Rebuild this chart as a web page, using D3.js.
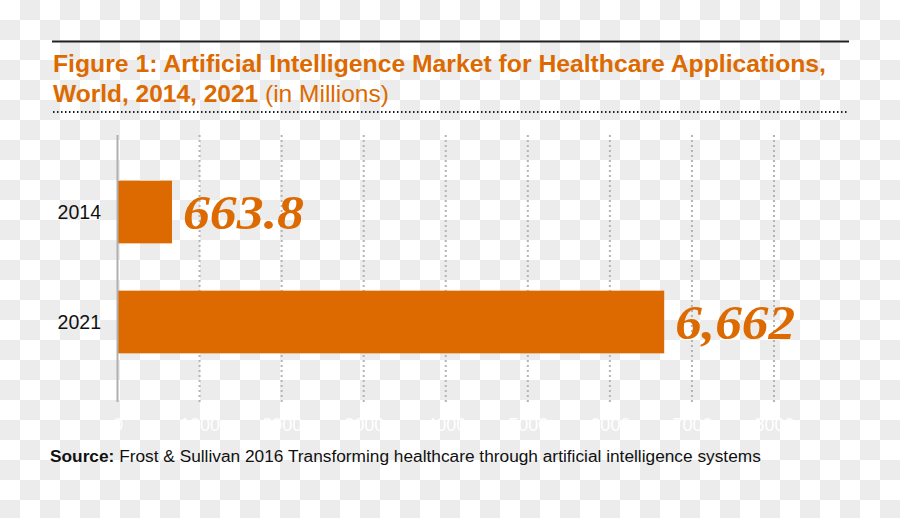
<!DOCTYPE html>
<html>
<head>
<meta charset="utf-8">
<script src="https://cdn.jsdelivr.net/npm/d3@7"></script>
<style>
  html, body { margin: 0; padding: 0; background: #fff; }
  svg { display: block; }
</style>
</head>
<body>
<svg id="chart" width="900" height="518"></svg>
<script>
// ---- data ----
const categories = ["2014", "2021"];
const values = [663.8, 6662];
const valueLabels = ["663.8", "6,662"];
const tickValues = [0, 1000, 2000, 3000, 4000, 5000, 6000, 7000, 8000];
const titleLine1 = "Figure 1: Artificial Intelligence Market for Healthcare Applications,";
const titleLine2Bold = "World, 2014, 2021";
const titleLine2Rest = " (in Millions)";
const sourceBold = "Source:";
const sourceRest = " Frost & Sullivan 2016 Transforming healthcare through artificial intelligence systems";

const orange = "#dc6a00";
const sans = "'Liberation Sans', Arial, Helvetica, sans-serif";

const svg = d3.select("#chart");

// checkerboard background (transparency pattern seen in the reference)
const cells = [];
for (let r = 0; r < Math.ceil(518 / 20); r++) {
  for (let c = 0; c < Math.ceil(900 / 20); c++) {
    if ((r + c) % 2 === 1) cells.push([c, r]);
  }
}
svg.append("rect").attr("width", 900).attr("height", 518).attr("fill", "#ffffff");
svg.append("g").selectAll("rect").data(cells).join("rect")
  .attr("x", d => d[0] * 20).attr("y", d => d[1] * 20)
  .attr("width", 20).attr("height", 20).attr("fill", "#ececec");

// top rule
svg.append("line").attr("x1", 52).attr("x2", 849).attr("y1", 41.5).attr("y2", 41.5)
  .attr("stroke", "#222").attr("stroke-width", 2);

// title
svg.append("text").attr("x", 53).attr("y", 72)
  .attr("font-family", sans).attr("font-weight", "bold").attr("font-size", 24.5)
  .attr("fill", orange)
  .attr("textLength", 773).attr("lengthAdjust", "spacingAndGlyphs")
  .text(titleLine1);
const t2 = svg.append("text").attr("x", 53).attr("y", 101.5)
  .attr("font-family", sans).attr("font-size", 24.5).attr("fill", orange);
t2.append("tspan").attr("font-weight", "bold").text(titleLine2Bold);
t2.append("tspan").text(titleLine2Rest);

// dotted rule
svg.append("line").attr("x1", 53).attr("x2", 847).attr("y1", 112).attr("y2", 112)
  .attr("stroke", "#222").attr("stroke-width", 2).attr("stroke-dasharray", "1.5,2.5");

// scales
const x = d3.scaleLinear().domain([0, 8000]).range([117.5, 774]);
const y = d3.scaleBand().domain(categories).range([130, 404]).paddingInner(0.43).paddingOuter(0.4605);

const gridTop = 135, gridBottom = 402;

// gridlines
svg.append("g").selectAll("line").data(tickValues.filter(d => d > 0)).join("line")
  .attr("x1", d => x(d)).attr("x2", d => x(d))
  .attr("y1", gridTop).attr("y2", gridBottom)
  .attr("stroke", "#b4b4b4").attr("stroke-width", 2).attr("stroke-dasharray", "2,3");

// x axis tick labels (white, as in reference)
const xAxis = d3.axisBottom(x).tickValues(tickValues).tickSize(0).tickPadding(0).tickFormat(d3.format("d"));
const gx = svg.append("g").attr("transform", `translate(0, ${gridBottom + 16})`).call(xAxis);
gx.select(".domain").remove();
gx.selectAll("text").attr("font-family", sans).attr("font-size", 18).attr("fill", "#ffffff");

// bars
svg.append("g").selectAll("rect").data(values).join("rect")
  .attr("x", x(0))
  .attr("y", (d, i) => y(categories[i]))
  .attr("width", d => x(d) - x(0))
  .attr("height", y.bandwidth())
  .attr("fill", orange);

// y axis line
svg.append("line").attr("x1", 117.5).attr("x2", 117.5).attr("y1", gridTop).attr("y2", gridBottom)
  .attr("stroke", "#b0b0b0").attr("stroke-width", 2);

// category labels
const yAxis = d3.axisLeft(y).tickSize(0).tickPadding(0);
const gy = svg.append("g").attr("transform", `translate(101, 0)`).call(yAxis);
gy.select(".domain").remove();
gy.selectAll("text").attr("font-family", sans).attr("font-size", 19.5).attr("fill", "#111").attr("dy", "0.36em");

// value labels
const labelWidths = [121, 120];
svg.append("g").selectAll("text").data(values).join("text")
  .attr("x", d => x(d) + 11)
  .attr("y", (d, i) => y(categories[i]) + y.bandwidth() / 2 + 17)
  .attr("font-family", "'Liberation Serif', 'Times New Roman', serif")
  .attr("font-weight", "bold").attr("font-style", "italic")
  .attr("font-size", 49).attr("fill", orange)
  .attr("textLength", (d, i) => labelWidths[i]).attr("lengthAdjust", "spacingAndGlyphs")
  .text((d, i) => valueLabels[i]);

// source
const src = svg.append("text").attr("x", 50).attr("y", 462)
  .attr("font-family", sans).attr("font-size", 17.3).attr("fill", "#111");
src.append("tspan").attr("font-weight", "bold").text(sourceBold);
src.append("tspan").text(sourceRest);
</script>
</body>
</html>
